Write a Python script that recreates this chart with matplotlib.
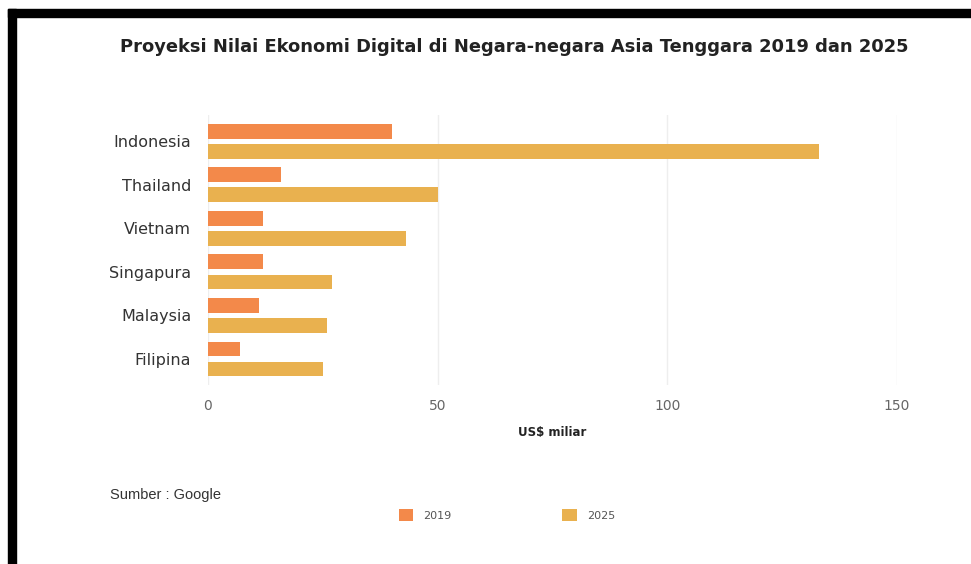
import numpy as np
import matplotlib
matplotlib.use("Agg")
import matplotlib.pyplot as plt
from matplotlib.patches import Rectangle

# data
countries = ["Indonesia", "Thailand", "Vietnam", "Singapura", "Malaysia", "Filipina"]
values_2019 = [40, 16, 12, 12, 11, 7]
values_2025 = [133, 50, 43, 27, 26, 25]
years = ["2019", "2025"]
x_ticks = [0, 50, 100, 150]

color_2019 = "#F3894A"
color_2025 = "#E9B14F"

fig = plt.figure(figsize=(9.71, 5.64), dpi=100)
ax = fig.add_axes([0.2142, 0.317, 0.7096, 0.479])

pos = np.arange(len(countries))
h = 0.34
b1 = ax.barh(pos - 0.23, values_2019, height=h, color=color_2019, label=years[0], zorder=3)
b2 = ax.barh(pos + 0.23, values_2025, height=h, color=color_2025, label=years[1], zorder=3)

ax.set_xlim(0, 150)
ax.set_ylim(5.6, -0.6)
ax.set_xticks(x_ticks)
ax.set_xticklabels([str(t) for t in x_ticks], fontsize=10, color="#666666")
ax.set_yticks(pos)
ax.set_yticklabels(countries, fontsize=11.5, color="#333333")
ax.tick_params(axis="both", length=0)
ax.tick_params(axis="y", pad=12)
ax.tick_params(axis="x", pad=10)
ax.grid(axis="x", color="#eeeeee", linewidth=1, zorder=0)
for s in ax.spines.values():
    s.set_visible(False)

ax.set_xlabel("US$ miliar", fontsize=8.5, fontweight="bold", color="#222222", labelpad=9)

fig.text(0.530, 0.917, "Proyeksi Nilai Ekonomi Digital di Negara-negara Asia Tenggara 2019 dan 2025",
         ha="center", va="center", fontsize=12.9, fontweight="bold", color="#222222")

fig.text(0.113, 0.122, "Sumber : Google", ha="left", va="center", fontsize=10.5,
         family="Liberation Sans", color="#333333")

fig.legend(handles=[b1, b2], loc="center", bbox_to_anchor=(0.522, 0.087), ncol=2,
           frameon=False, fontsize=8, handlelength=1.3, handleheight=1.3,
           handletextpad=0.9, columnspacing=10.0, labelcolor="#555555")

# black frame on top and left edges of the screenshot
fig.add_artist(Rectangle((0.0082, 0.9699), 1.0, 0.0141, transform=fig.transFigure,
                         color="black", zorder=10))
fig.add_artist(Rectangle((0.0082, 0.0), 0.0083, 0.984, transform=fig.transFigure,
                         color="black", zorder=10))

fig.savefig("out.png", dpi=100, facecolor="white")
